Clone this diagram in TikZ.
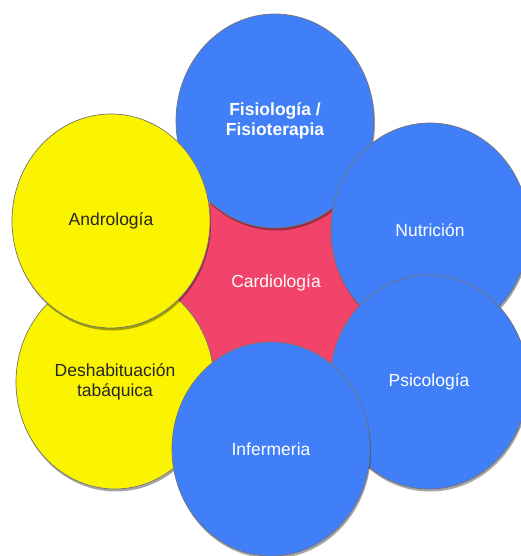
\documentclass[tikz,border=0pt]{standalone}
\usepackage{fontspec}
\setmainfont{Liberation Sans}
\usetikzlibrary{shapes.geometric,shadows}
\definecolor{areablue}{RGB}{64,127,248}
\definecolor{areayellow}{RGB}{250,244,0}
\definecolor{areapink}{RGB}{242,67,106}

\begin{document}
\begin{tikzpicture}[x=1pt,y=-1pt]
\useasboundingbox (0,0) rectangle (521,556);
\begin{scope}[every node/.style={ellipse,draw=black!55,line width=0.7pt,
              minimum width=198pt,minimum height=214pt,inner sep=0pt,align=center,
              font=\fontsize{17.5}{20}\selectfont,
              drop shadow={shadow xshift=1pt,shadow yshift=-2.5pt,opacity=0.35,fill=black}}]
    \node[fill=areapink,text=white,draw=none] (card) at (276,283) {Cardiología};
    \node[fill=areayellow,text=black!85] (desh) at (115,382) {Deshabituación\\tabáquica};
    \node[fill=areablue,text=white,font=\fontsize{17.5}{20}\selectfont\bfseries] (fisio) at (275,121) {Fisiología /\\Fisioterapia};
    \node[fill=areayellow,text=black!85] (andro) at (111,221) {Andrología};
    \node[fill=areablue,text=white] (nutri) at (430,230) {Nutrición};
    \node[fill=areablue,text=white] (psico) at (429,382) {Psicología};
    \node[fill=areablue,text=white] (infer) at (271,449) {Infermeria};
\end{scope}
\end{tikzpicture}
\end{document}
